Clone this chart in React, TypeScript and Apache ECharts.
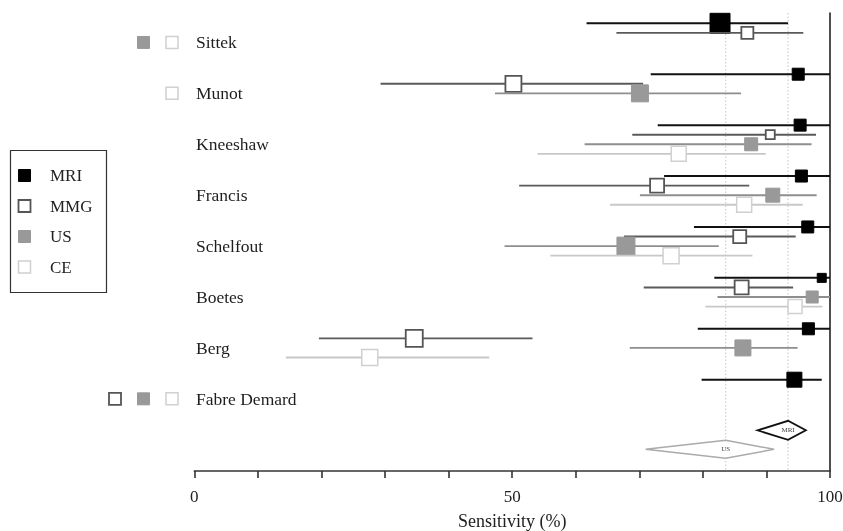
import React, { useEffect, useRef } from "react";
import * as echarts from "echarts";

const studies = ["Sittek", "Munot", "Kneeshaw", "Francis", "Schelfout", "Boetes", "Berg", "Fabre Demard"];
const modalities = ["MRI", "MMG", "US", "CE"];

const mriEst = [82.7, 95.0, 95.3, 95.5, 96.5, 98.7, 96.6, 94.4];
const mriLow = [61.7, 71.8, 72.9, 73.9, 78.6, 81.8, 79.2, 79.8];
const mriHigh = [93.4, 100, 100, 100, 100, 100, 100, 98.7];
const mriWeight = [20, 12, 12, 12, 12, 9, 12, 15];

const mmgEst = [87.0, 50.2, 90.6, 72.8, 85.8, 86.1, 34.6, null];
const mmgLow = [66.4, 29.3, 68.9, 51.1, 67.6, 70.7, 19.6, null];
const mmgHigh = [95.8, 70.6, 97.8, 87.3, 94.6, 94.2, 53.2, null];
const mmgWeight = [12, 16, 9, 14, 13, 14, 17, null];

const usEst = [null, 70.1, 87.6, 91.0, 67.9, 97.2, 86.3, null];
const usLow = [null, 47.3, 61.4, 70.1, 48.8, 82.3, 68.5, null];
const usHigh = [null, 86.0, 97.1, 97.9, 82.5, 100, 94.9, null];
const usWeight = [null, 17, 13, 14, 18, 12, 16, null];

const ceEst = [null, null, 76.2, 86.5, 75.0, 94.5, 27.6, null];
const ceLow = [null, null, 54.0, 65.4, 56.0, 80.4, 14.4, null];
const ceHigh = [null, null, 89.9, 95.7, 87.8, 98.8, 46.4, null];
const ceWeight = [null, null, 15, 15, 16, 14, 16, null];

const pooledNames = ["MRI", "US"];
const pooledEst = [93.4, 83.6];
const pooledLow = [88.6, 71.0];
const pooledHigh = [96.2, 91.2];

const xTickLabels = [0, 50, 100];

const FONT = '"Liberation Serif", "DejaVu Serif", serif';
const STUDY_GAP = 5.32;
const Y_MIN = -1.076;
const Y_MAX = 46.78;
const POOLED_ROWS = [42.53, 44.51];

const ests = [mriEst, mmgEst, usEst, ceEst];
const lows = [mriLow, mmgLow, usLow, ceLow];
const highs = [mriHigh, mmgHigh, usHigh, ceHigh];
const weights = [mriWeight, mmgWeight, usWeight, ceWeight];

const mStyle: Record<string, { fill: string; stroke: string; line: string; lw: number; llw: number }> = {
  MRI: { fill: "#000000", stroke: "#000000", line: "#111111", lw: 1, llw: 2 },
  MMG: { fill: "#ffffff", stroke: "#555555", line: "#5a5a5a", lw: 1.8, llw: 1.9 },
  US: { fill: "#999999", stroke: "#999999", line: "#8e8e8e", lw: 1, llw: 1.9 },
  CE: { fill: "#ffffff", stroke: "#d0d0d0", line: "#c8c8c8", lw: 1.5, llw: 1.8 },
};

const rowY = (i: number, j: number) => i * STUDY_GAP + j;

export default function App() {
  const ref = useRef<HTMLDivElement>(null);

  useEffect(() => {
    if (!ref.current) return;
    const chart = echarts.init(ref.current, null, { renderer: "svg" });

    const estData: number[][] = [];
    const missingData: number[][] = [];
    studies.forEach((_, i) => {
      modalities.forEach((_m, j) => {
        const e = ests[j][i];
        if (e !== null && e !== undefined) {
          estData.push([e, rowY(i, j), lows[j][i] as number, highs[j][i] as number, weights[j][i] as number, j]);
        }
      });
    });
    studies.forEach((_, i) => {
      const hasAny = modalities.map((_m, j) => ests[j][i] !== null);
      hasAny.forEach((h, j) => {
        if (!h) missingData.push([0, rowY(i, 2), j]);
      });
    });
    const labelData = studies.map((_, i) => [0, rowY(i, 2), i]);
    const pooledData = pooledNames.map((_, k) => [pooledEst[k], POOLED_ROWS[k], pooledLow[k], pooledHigh[k], k]);

    const legendChildren: any[] = [
      {
        type: "rect",
        shape: { x: 10.5, y: 150.5, width: 96, height: 142 },
        style: { fill: "none", stroke: "#333", lineWidth: 1.2 },
      },
    ];
    modalities.forEach((m, j) => {
      const cy = 175.5 + j * 30.5;
      const s = mStyle[m];
      legendChildren.push({
        type: "rect",
        shape: { x: 18.5, y: cy - 6, width: 12, height: 12 },
        style: { fill: s.fill, stroke: s.stroke, lineWidth: s.lw },
      });
      legendChildren.push({
        type: "text",
        x: 50,
        y: cy,
        style: {
          text: m,
          fill: "#222",
          font: `17px ${FONT}`,
          align: "left",
          verticalAlign: "middle",
          textAlign: "left",
          textVerticalAlign: "middle",
        },
      });
    });

    chart.setOption({
      animation: false,
      grid: { left: 194.3, right: 13, top: 13, bottom: 60, containLabel: false, outerBoundsMode: "none" },
      xAxis: {
        type: "value",
        min: 0,
        max: 100,
        interval: 10,
        name: "Sensitivity (%)",
        nameLocation: "middle",
        nameGap: 41,
        nameTextStyle: { fontFamily: FONT, fontSize: 18, color: "#222" },
        axisLine: { show: true, onZero: false, lineStyle: { color: "#333", width: 1.6 } },
        axisTick: { show: true, length: 7, lineStyle: { color: "#333", width: 1.6 } },
        axisLabel: {
          margin: 17,
          fontFamily: FONT,
          fontSize: 17,
          color: "#222",
          formatter: (v: number) => (xTickLabels.includes(v) ? String(v) : ""),
        },
        splitLine: { show: false },
      },
      yAxis: {
        type: "value",
        min: Y_MIN,
        max: Y_MAX,
        inverse: true,
        position: "right",
        axisLine: { show: true, onZero: false, lineStyle: { color: "#222", width: 1.6 } },
        axisTick: { show: false },
        axisLabel: { show: false },
        splitLine: { show: false },
      },
      graphic: [{ type: "group", children: legendChildren }],
      series: [
        {
          type: "custom",
          name: "pooled",
          clip: false,
          encode: { x: 0, y: 1 },
          data: pooledData,
          renderItem: (_p: any, api: any) => {
            const est = api.value(0);
            const y = api.value(1);
            const lo = api.value(2);
            const hi = api.value(3);
            const k = api.value(4);
            const top = api.coord([est, Y_MIN]);
            const bot = api.coord([est, Y_MAX]);
            const c = api.coord([est, y]);
            const l = api.coord([lo, y]);
            const r = api.coord([hi, y]);
            const h = k === 0 ? 9.5 : 9;
            return {
              type: "group",
              children: [
                {
                  type: "line",
                  shape: { x1: top[0], y1: top[1], x2: bot[0], y2: bot[1] },
                  style: { stroke: "#c4c4c4", lineWidth: 1, lineDash: [1.5, 2] },
                },
                {
                  type: "polygon",
                  shape: { points: [[l[0], c[1]], [c[0], c[1] - h], [r[0], c[1]], [c[0], c[1] + h]] },
                  style: { fill: "#fff", stroke: k === 0 ? "#111" : "#aaaaaa", lineWidth: k === 0 ? 1.8 : 1.5 },
                },
                {
                  type: "text",
                  x: c[0],
                  y: c[1],
                  style: {
                    text: pooledNames[k],
                    fill: "#444",
                    font: `7px ${FONT}`,
                    align: "center",
                    verticalAlign: "middle",
                    textAlign: "center",
                    textVerticalAlign: "middle",
                  },
                },
              ],
            };
          },
        },
        {
          type: "custom",
          name: "studies",
          clip: false,
          encode: { x: 0, y: 1 },
          data: estData,
          renderItem: (_p: any, api: any) => {
            const est = api.value(0);
            const y = api.value(1);
            const lo = api.value(2);
            const hi = api.value(3);
            const w = api.value(4);
            const j = api.value(5);
            const s = mStyle[modalities[j]];
            const p0 = api.coord([lo, y]);
            const p1 = api.coord([hi, y]);
            const c = api.coord([est, y]);
            return {
              type: "group",
              children: [
                {
                  type: "line",
                  shape: { x1: p0[0], y1: p0[1], x2: p1[0], y2: p1[1] },
                  style: { stroke: s.line, lineWidth: s.llw },
                },
                {
                  type: "rect",
                  shape: { x: c[0] - w / 2, y: c[1] - w / 2, width: w, height: w },
                  style: { fill: s.fill, stroke: s.stroke, lineWidth: s.lw },
                },
              ],
            };
          },
        },
        {
          type: "custom",
          name: "missing",
          clip: false,
          encode: { x: 0, y: 1 },
          data: missingData,
          renderItem: (_p: any, api: any) => {
            const y = api.value(1);
            const j = api.value(2);
            const s = mStyle[modalities[j]];
            const c = api.coord([0, y]);
            const cx = c[0] - (22.3 + (3 - j) * 28.5);
            const sz = 12;
            return {
              type: "rect",
              shape: { x: cx - sz / 2, y: c[1] - sz / 2, width: sz, height: sz },
              style: { fill: s.fill, stroke: s.stroke, lineWidth: s.lw },
            };
          },
        },
        {
          type: "custom",
          name: "labels",
          clip: false,
          encode: { x: 0, y: 1 },
          data: labelData,
          renderItem: (_p: any, api: any) => {
            const y = api.value(1);
            const i = api.value(2);
            const c = api.coord([0, y]);
            return {
              type: "text",
              x: c[0] + 1.7,
              y: c[1],
              style: {
                text: studies[i],
                fill: "#1e1e1e",
                font: `17.5px ${FONT}`,
                align: "left",
                verticalAlign: "middle",
                textAlign: "left",
                textVerticalAlign: "middle",
              },
            };
          },
        },
      ],
    });

    return () => chart.dispose();
  }, []);

  return <div ref={ref} style={{ position: "fixed", left: 0, top: 0, width: 843, height: 531 }} />;
}
